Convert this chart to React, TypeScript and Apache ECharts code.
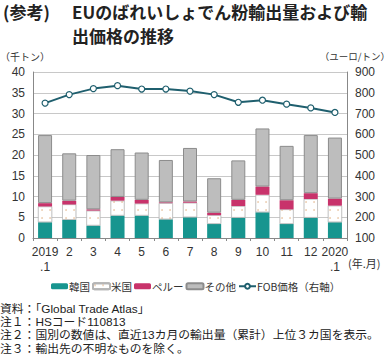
import React, { useEffect, useRef } from "react";
import * as echarts from "echarts";

const categories = ["2019\n.1", "2", "3", "4", "5", "6", "7", "8", "9", "10", "11", "12", "2020\n.1"];
const korea = [3.8, 4.4, 3.0, 5.4, 5.4, 4.5, 5.0, 3.4, 4.9, 6.2, 3.4, 4.9, 3.8];
const usa = [3.8, 3.7, 3.6, 3.6, 2.9, 3.9, 3.5, 2.1, 2.8, 4.2, 3.5, 4.5, 4.0];
const peru = [0.8, 0.9, 0.3, 0.9, 0.9, 0.2, 0.3, 0.6, 1.5, 2.0, 2.2, 1.4, 1.7];
const others = [16.4, 11.4, 13.1, 11.5, 11.4, 10.2, 12.9, 8.3, 9.5, 14.0, 13.1, 14.0, 14.7];
const fobPrice = [750, 791, 820, 834, 818, 818, 808, 791, 754, 764, 745, 727, 705];
const notes = [
  "資料：「Global Trade Atlas」",
  "注１：HSコード110813",
  "注２：国別の数値は、直近13カ月の輸出量（累計）上位３カ国を表示。",
  "注３：輸出先の不明なものを除く。",
];

const JP = '"Noto Sans CJK JP", "Noto Sans", sans-serif';
const NOTE = '"Liberation Sans", "Noto Sans CJK JP", sans-serif';
const NUM = '"Liberation Sans", Arial, sans-serif';

export default function App() {
  const ref = useRef<HTMLDivElement>(null);
  useEffect(() => {
    if (!ref.current) return;
    const chart = echarts.init(ref.current, undefined, { renderer: "svg" });
    const barW = 14;
    chart.setOption({
      animation: false,
      textStyle: { fontFamily: JP },
      grid: { left: 33, right: 44, top: 72, bottom: 119 },
      legend: {
        top: 276,
        left: 46,
        itemWidth: 17,
        itemHeight: 6,
        itemGap: 2,
        textStyle: { fontSize: 10.5, color: "#333", fontFamily: JP, padding: [0, 0, 0, -4] },
        data: ["韓国", "米国", "ペルー", "その他", "FOB価格（右軸）"],
      },
      xAxis: {
        type: "category",
        data: categories,
        axisLine: { lineStyle: { color: "#888" } },
        axisTick: { show: true, length: 3, lineStyle: { color: "#888" } },
        axisLabel: { interval: 0, color: "#333", fontSize: 12, fontFamily: NUM, lineHeight: 15, margin: 6 },
      },
      yAxis: [
        {
          type: "value",
          min: 0,
          max: 40,
          interval: 5,
          axisLine: { show: true, lineStyle: { color: "#888" } },
          axisTick: { show: false },
          splitLine: { lineStyle: { color: "#c8c8c8" } },
          axisLabel: { color: "#333", fontSize: 12, fontFamily: NUM, margin: 8 },
        },
        {
          type: "value",
          min: 100,
          max: 900,
          interval: 100,
          axisLine: { show: true, lineStyle: { color: "#888" } },
          axisTick: { show: false },
          splitLine: { show: false },
          axisLabel: { color: "#333", fontSize: 12, fontFamily: NUM, margin: 8 },
        },
      ],
      series: [
        {
          name: "韓国",
          type: "bar",
          stack: "t",
          barWidth: barW,
          data: korea,
          itemStyle: { color: "#17958f" },
        },
        {
          name: "米国",
          type: "bar",
          stack: "t",
          data: usa,
          itemStyle: {
            color: "#ffffff",
            borderColor: "#b5b5b5",
            borderWidth: 0.5,
            decal: {
              symbol: "circle",
              symbolSize: 0.35,
              color: "#d9a06a",
              dashArrayX: 4,
              dashArrayY: 4,
              rotation: 0,
            },
          },
        },
        {
          name: "ペルー",
          type: "bar",
          stack: "t",
          data: peru,
          itemStyle: { color: "#c8336b" },
        },
        {
          name: "その他",
          type: "bar",
          stack: "t",
          data: others,
          itemStyle: { color: "#bdbdbd", borderColor: "#8c8c8c", borderWidth: 1 },
        },
        {
          name: "FOB価格（右軸）",
          type: "line",
          yAxisIndex: 1,
          data: fobPrice,
          symbol: "circle",
          symbolSize: 6,
          lineStyle: { color: "#1f5f6e", width: 2 },
          itemStyle: { color: "#ffffff", borderColor: "#1f5f6e", borderWidth: 1.2 },
        },
      ],
      graphic: [
        { type: "text", left: 3, top: 3, style: { text: "(参考)", font: `bold 17px ${JP}`, fill: "#222" } },
        { type: "text", left: 72, top: 3, style: { text: "EUのばれいしょでん粉輸出量および輸", font: `bold 17px ${JP}`, fill: "#222" } },
        { type: "text", left: 72, top: 27, style: { text: "出価格の推移", font: `bold 17px ${JP}`, fill: "#222" } },
        { type: "text", left: 0, top: 51, style: { text: "（千トン）", font: `10px ${JP}`, fill: "#333" } },
        { type: "text", right: 1, top: 51, style: { text: "（ユーロ/トン）", font: `9.5px ${JP}`, fill: "#333" } },
        { type: "text", left: 348, top: 257, style: { text: "(年.月)", font: `11px ${JP}`, fill: "#333" } },
        ...notes.map((t, i) => ({
          type: "text",
          left: 0,
          top: 303 + i * 13.2,
          style: { text: t, font: `11.8px ${NOTE}`, lineHeight: 12, fill: "#222" },
        })),
      ],
    });
    return () => chart.dispose();
  }, []);
  return <div ref={ref} style={{ width: 391, height: 357, position: "absolute", left: 0, top: 0 }} />;
}
